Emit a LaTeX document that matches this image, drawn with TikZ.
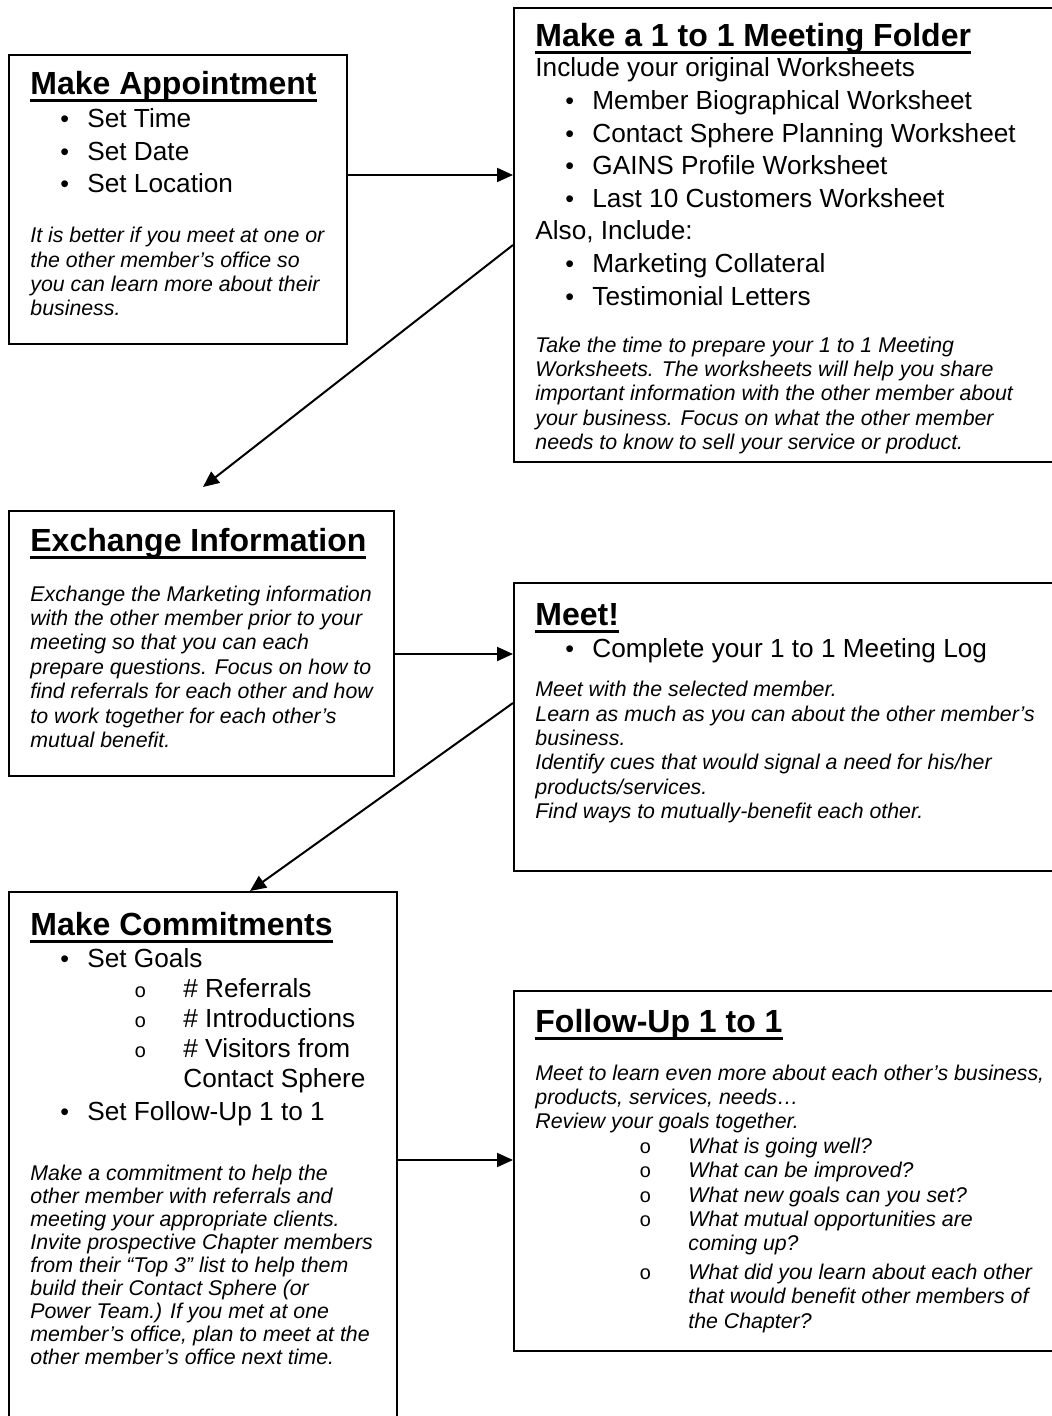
\documentclass[tikz,border=0pt]{standalone}
\usepackage{fontspec}
\setmainfont{Liberation Sans}
\newfontfamily\circfont{Liberation Mono}
\usetikzlibrary{arrows.meta}

\newcommand{\boxtitle}[1]{{\fontsize{16}{19}\selectfont\bfseries
  \setbox0\hbox{#1}\leavevmode\rlap{\rule[-3.75pt]{\wd0}{1.5pt}}\box0\par}}
\newcommand{\bodyfont}{\fontsize{13.1}{16.3}\selectfont}
\newcommand{\notefont}{\fontsize{10.66}{12.2}\selectfont\itshape}
\newcommand{\bul}[1]{\hspace*{15pt}\makebox[13.5pt][l]{\fontsize{12.5}{12.5}\selectfont\textbullet}#1\par}
\newcommand{\subbul}[1]{{\hangindent=76.5pt\hangafter=1
  \hspace*{52pt}\makebox[24.5pt][l]{\circfont\upshape\fontsize{10}{10}\selectfont o}#1\par}}

\begin{document}
\begin{tikzpicture}[x=0.5pt, y=-0.5pt,
  panel/.style={draw, line width=1pt, inner sep=0pt, anchor=north west},
  panetext/.style={anchor=base west, inner sep=0pt},
  flow/.style={line width=1pt, -{Triangle[length=8pt,width=7pt]}}]
\useasboundingbox (0,0) rectangle (1052,1416);
% boxes:
\node[panel, minimum width=169pt, minimum height=144.5pt] (appt) at (8,54) {};
\node[panel, minimum width=273.5pt, minimum height=227pt] (folder) at (513,7) {};
\node[panel, minimum width=192.5pt, minimum height=132.5pt] (exch) at (8,510) {};
\node[panel, minimum width=273.5pt, minimum height=144pt] (meet) at (513,582) {};
\node[panel, minimum width=194pt, minimum height=270pt] (commit) at (8,891) {};
\node[panel, minimum width=273.5pt, minimum height=180pt] (follow) at (513,990) {};
% texts:
\node[panetext] (appt-txt) at ([shift={(22,41)}]appt.north west) {\parbox[t]{200pt}{\raggedright
  \boxtitle{Make Appointment}
  {\bodyfont\bul{Set Time}\bul{Set Date}\bul{Set Location}}
  \vspace{12.8pt}
  {\notefont It is better if you meet at one or\\the other member’s office so\\you can learn more about their\\business.\par}}};
\node[panetext] (folder-txt) at ([shift={(22,40)}]folder.north west) {\parbox[t]{300pt}{\raggedright
  \boxtitle{Make a 1 to 1 Meeting Folder}
  {\bodyfont\vspace{-1.3pt}Include your original Worksheets\par
  \bul{Member Biographical Worksheet}\bul{Contact Sphere Planning Worksheet}
  \bul{GAINS Profile Worksheet}\bul{Last 10 Customers Worksheet}
  Also, Include:\par
  \bul{Marketing Collateral}\bul{Testimonial Letters}}
  \vspace{11.3pt}
  {\notefont Take the time to prepare your 1 to 1 Meeting\\Worksheets. The worksheets will help you share\\important information with the other member about\\your business. Focus on what the other member\\needs to know to sell your service or product.\par}}};
\node[panetext] (exch-txt) at ([shift={(22,41)}]exch.north west) {\parbox[t]{200pt}{\raggedright
  \boxtitle{Exchange Information}
  \vspace{12.8pt}
  {\notefont Exchange the Marketing information\\with the other member prior to your\\meeting so that you can each\\prepare questions. Focus on how to\\find referrals for each other and how\\to work together for each other’s\\mutual benefit.\par}}};
\node[panetext] (meet-txt) at ([shift={(22,43)}]meet.north west) {\parbox[t]{300pt}{\raggedright
  \boxtitle{Meet!}
  {\bodyfont\bul{Complete your 1 to 1 Meeting Log}}
  \vspace{7.3pt}
  {\notefont Meet with the selected member.\\Learn as much as you can about the other member’s\\business.\\Identify cues that would signal a need for his/her\\products/services.\\Find ways to mutually-benefit each other.\par}}};
\node[panetext] (commit-txt) at ([shift={(22,44)}]commit.north west) {\parbox[t]{200pt}{\raggedright
  \boxtitle{Make Commitments}
  {\bodyfont\bul{Set Goals}
  {\fontsize{13.1}{15}\selectfont\subbul{\# Referrals}\subbul{\# Introductions}\subbul{\# Visitors from\newline Contact Sphere}}
  \bul{Set Follow-Up 1 to 1}}
  \vspace{18.5pt}
  {\notefont\fontsize{10.66}{11.5}\selectfont Make a commitment to help the\\other member with referrals and\\meeting your appropriate clients.\\Invite prospective Chapter members\\from their “Top 3” list to help them\\build their Contact Sphere (or\\Power Team.) If you met at one\\member’s office, plan to meet at the\\other member’s office next time.\par}}};
\node[panetext] (follow-txt) at ([shift={(22,42)}]follow.north west) {\parbox[t]{300pt}{\raggedright
  \boxtitle{Follow-Up 1 to 1}
  \vspace{11.8pt}
  {\notefont Meet to learn even more about each other’s business,\\products, services, needs…\\Review your goals together.\par
  \subbul{What is going well?}\subbul{What can be improved?}\subbul{What new goals can you set?}
  \subbul{What mutual opportunities are\newline coming up?}
  \vspace{2pt}
  \subbul{What did you learn about each other\newline that would benefit other members of\newline the Chapter?}}}};
% connectors:
\coordinate (exch-in) at ([shift={(195,-23)}]exch.north west);
\draw[flow] (appt.east |- 0,175) -- (folder.west |- 0,175);
\draw[flow] (folder.west |- 0,245) -- (exch-in);
\draw[flow] (exch.east |- 0,654) -- (meet.west |- 0,654);
\draw[flow] (meet.west |- 0,703) -- ([xshift=121pt]commit.north west);
\draw[flow] (commit.east |- 0,1160) -- (follow.west |- 0,1160);
\end{tikzpicture}
\end{document}
